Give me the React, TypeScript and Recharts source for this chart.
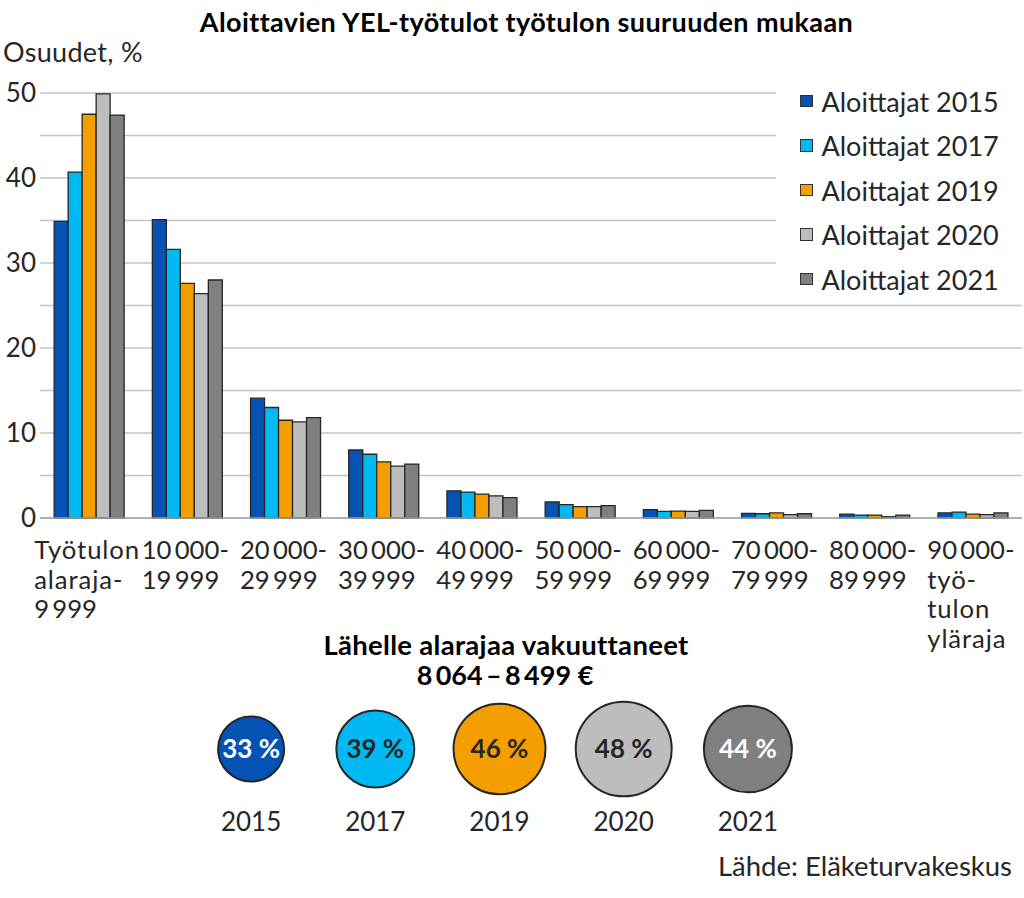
import React from 'react';
import { BarChart, Bar, XAxis, YAxis, CartesianGrid, Legend, ScatterChart, Scatter } from 'recharts';

const categories = [
  'Työtulon\nalaraja-\n9\u2009999',
  '10\u2009000-\n19\u2009999',
  '20\u2009000-\n29\u2009999',
  '30\u2009000-\n39\u2009999',
  '40\u2009000-\n49\u2009999',
  '50\u2009000-\n59\u2009999',
  '60\u2009000-\n69\u2009999',
  '70\u2009000-\n79\u2009999',
  '80\u2009000-\n89\u2009999',
  '90\u2009000-\ntyö-\ntulon\nyläraja',
];

const seriesNames = ['Aloittajat 2015', 'Aloittajat 2017', 'Aloittajat 2019', 'Aloittajat 2020', 'Aloittajat 2021'];
const seriesColors = ['#0453B4', '#00B9F2', '#F59E00', '#BDBDBD', '#808080'];

const s2015 = [34.9, 35.1, 14.1, 8.0, 3.2, 1.88, 0.98, 0.55, 0.45, 0.6];
const s2017 = [40.7, 31.6, 13.0, 7.5, 3.05, 1.57, 0.78, 0.5, 0.35, 0.7];
const s2019 = [47.5, 27.6, 11.5, 6.6, 2.8, 1.33, 0.82, 0.6, 0.35, 0.45];
const s2020 = [49.9, 26.4, 11.3, 6.1, 2.6, 1.33, 0.78, 0.4, 0.15, 0.4];
const s2021 = [47.4, 28.0, 11.8, 6.35, 2.4, 1.45, 0.9, 0.5, 0.35, 0.6];

const yTicks = [0, 5, 10, 15, 20, 25, 30, 35, 40, 45, 50];

const nearYears = ['2015', '2017', '2019', '2020', '2021'];
const nearShares = [33, 39, 46, 48, 44];
const nearTextColors = ['#ffffff', '#262626', '#262626', '#262626', '#ffffff'];

const FONT = 'Lato, "Open Sans", sans-serif';
const TEXT = '#262626';

const keys = ['y2015', 'y2017', 'y2019', 'y2020', 'y2021'];
const seriesData = [s2015, s2017, s2019, s2020, s2021];
const data = categories.map((c, i) => {
  const row: any = { cat: c };
  keys.forEach((k, j) => { row[k] = seriesData[j][i]; });
  return row;
});

const nearData = nearYears.map((year, i) => ({ x: i, y: 0.5, share: nearShares[i], year }));

let measureCtx: CanvasRenderingContext2D | null = null;
function textWidth(s: string, font: string) {
  if (!measureCtx) {
    const c = document.createElement('canvas');
    measureCtx = c.getContext('2d');
  }
  if (!measureCtx) return s.length * 12;
  measureCtx.font = font;
  return measureCtx.measureText(s).width;
}

const XFS = 25.7;
const isNumLine = (l: string) => /\d/.test(l);
const lineSpacing = (l: string) => (isNumLine(l) ? 0 : 0.9);
const lineWidth = (l: string) => textWidth(l, `${XFS}px Lato`) + lineSpacing(l) * l.length;

const XTick = (props: any) => {
  const { x, y, payload } = props;
  const lines = String(payload.value).split('\n');
  const w = Math.max(...lines.map(lineWidth));
  const x0 = x - w / 2 - 2;
  return (
    <text x={x0} y={y + 24} textAnchor="start" fontFamily={FONT} fontSize={XFS} fill={TEXT}>
      {lines.map((l, i) => (
        <tspan key={i} x={x0} y={y + 24 + i * 29.5} dy="0.36em" letterSpacing={lineSpacing(l)}>{l}</tspan>
      ))}
    </text>
  );
};

const LegendContent = (props: any) => {
  const payload = props.payload || [];
  return (
    <div style={{ position: 'relative', width: 248, height: 222 }}>
      {payload.map((e: any, i: number) => (
        <div key={i} style={{ position: 'absolute', left: 24, top: 21 + i * 44.5 - 15, height: 30, display: 'flex', alignItems: 'center' }}>
          <div style={{ width: 10.5, height: 10.5, background: e.color, border: '1.5px solid #333', marginRight: 9 }} />
          <span style={{ fontFamily: FONT, fontSize: 27, color: TEXT, whiteSpace: 'nowrap' }}>{e.value}</span>
        </div>
      ))}
    </div>
  );
};

const CircleShape = (props: any) => {
  const { cx, cy, payload } = props;
  const i = nearYears.indexOf(payload.year);
  return (
    <g>
      <ellipse cx={cx} cy={cy} rx={payload.share} ry={payload.share * 0.985} fill={seriesColors[i]} stroke="#262626" strokeWidth={2} />
      <text x={cx} y={cy} dy="0.36em" textAnchor="middle" fontFamily={FONT} fontWeight={700} fontSize={26} fill={nearTextColors[i]}>
        {payload.share + ' %'}
      </text>
    </g>
  );
};

const YearTick = (props: any) => {
  const { x, y, payload } = props;
  return (
    <text x={x} y={y + 18} dy="0.36em" textAnchor="middle" fontFamily={FONT} fontSize={26} fill={TEXT}>
      {nearYears[payload.value]}
    </text>
  );
};

export default function App() {
  return (
    <div style={{ position: 'absolute', left: 0, top: 0, width: 1024, height: 898, background: '#fff', fontFamily: FONT, overflow: 'hidden' }}>
      <div style={{ position: 'absolute', left: 0, width: 1053, top: 6, lineHeight: '32px', textAlign: 'center', fontWeight: 700, fontSize: 27, letterSpacing: 0.4, color: '#000' }}>
        Aloittavien YEL-työtulot työtulon suuruuden mukaan
      </div>
      <div style={{ position: 'absolute', left: 3, top: 36, lineHeight: '32px', fontSize: 27, letterSpacing: 0.3, color: TEXT }}>
        Osuudet, %
      </div>
      <div style={{ position: 'absolute', left: 0, top: 0 }}>
        <BarChart width={1024} height={898} data={data} margin={{ top: 93, right: 2, bottom: 240, left: 0 }}
          barCategoryGap="14.4%" barGap={0}>
          <CartesianGrid vertical={false} stroke="#C4C4C4" strokeWidth={1.5} />
          <XAxis dataKey="cat" height={140} tick={<XTick />} tickLine={false} axisLine={{ stroke: '#A6A6A6', strokeWidth: 1.5 }} interval={0} />
          <YAxis width={40} domain={[0, 50]} ticks={yTicks} tickSize={0} tickMargin={4} axisLine={false} tickLine={false}
            tickFormatter={(v: number) => (v % 10 === 0 ? String(v) : '')}
            tick={{ fontFamily: FONT, fontSize: 26, fill: TEXT }} />
          <Legend layout="vertical" align="center" verticalAlign="middle" content={<LegendContent />}
            wrapperStyle={{ left: 776, top: 80, width: 248, height: 222, backgroundColor: '#fff' }} />
          {keys.map((k, j) => (
            <Bar key={k} dataKey={k} name={seriesNames[j]} fill={seriesColors[j]} stroke="#262626" strokeWidth={1.3} isAnimationActive={false} />
          ))}
        </BarChart>
      </div>
      <div style={{ position: 'absolute', left: 0, width: 1012, top: 629, lineHeight: '32px', textAlign: 'center', fontWeight: 700, fontSize: 27.5, letterSpacing: 0.3, color: '#000' }}>
        Lähelle alarajaa vakuuttaneet
      </div>
      <div style={{ position: 'absolute', left: 0, width: 1010, top: 659, lineHeight: '32px', textAlign: 'center', fontWeight: 700, fontSize: 27, color: '#000' }}>
        {'8\u2009064\u2009–\u20098\u2009499 €'}
      </div>
      <div style={{ position: 'absolute', left: 189, top: 694 }}>
        <ScatterChart width={621} height={160} margin={{ top: 0, right: 0, bottom: 0, left: 0 }}>
          <XAxis type="number" dataKey="x" domain={[-0.5, 4.5]} ticks={[0, 1, 2, 3, 4]} height={50}
            tick={<YearTick />} tickSize={0} tickMargin={0} axisLine={false} tickLine={false} />
          <YAxis type="number" dataKey="y" domain={[0, 1]} hide />
          <Scatter data={nearData} shape={<CircleShape />} isAnimationActive={false} />
        </ScatterChart>
      </div>
      <div style={{ position: 'absolute', right: 12, top: 850, lineHeight: '32px', fontSize: 27.5, color: TEXT }}>
        Lähde: Eläketurvakeskus
      </div>
    </div>
  );
}
